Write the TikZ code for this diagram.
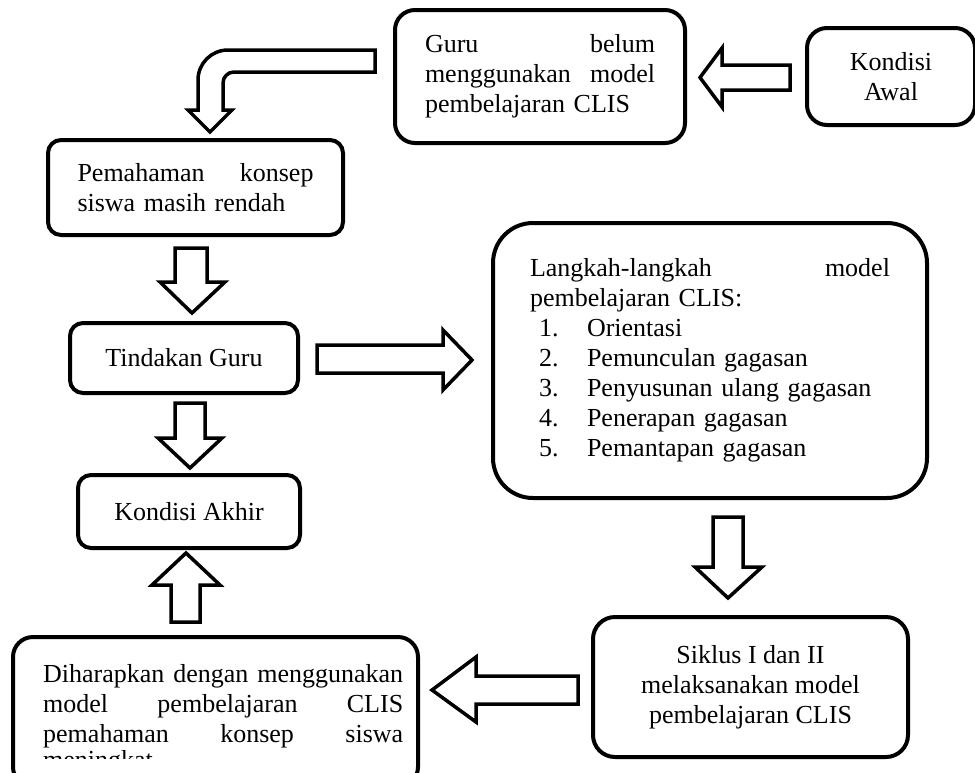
\documentclass[tikz,border=0pt]{standalone}
\usepackage{fontspec}
\setmainfont{Liberation Serif}
\tikzset{
  box/.style={draw, line width=4pt, inner sep=0pt, align=left, font=\fontsize{26}{30}\selectfont},
  txt/.style={inner sep=0pt, align=left, font=\fontsize{26}{30}\selectfont},
  barrow/.style={draw, line width=3.5pt, fill=white, line join=miter, miter limit=10},
}
\newcommand\jline[2]{\leavevmode\hbox to #1{#2}}
\begin{document}
\begin{tikzpicture}[x=1pt,y=-1pt]
\useasboundingbox (0,0) rectangle (975,772);

% boxes
\node[box, rounded corners=20pt, minimum width=290pt, minimum height=133pt, text width=230pt] (guru) at (540,76.5)
  {\jline{230pt}{Guru\hfill belum}\\\jline{230pt}{menggunakan\hfill model}\\pembelajaran CLIS};
\node[box, rounded corners=20pt, minimum width=168pt, minimum height=97pt, align=center] (awal) at (891,76.5)
  {Kondisi\\Awal};
\node[box, rounded corners=13pt, minimum width=295pt, minimum height=95pt, text width=236pt] (pem) at (195.5,187.5)
  {\jline{236pt}{Pemahaman\hfill konsep}\\siswa masih rendah};
\node[box, rounded corners=13pt, minimum width=228pt, minimum height=70pt, align=center] (tind) at (184,358)
  {Tindakan Guru};
\node[box, rounded corners=13pt, minimum width=222pt, minimum height=73pt, align=center] (akhir) at (189,511.5)
  {Kondisi Akhir};
\node[box, rounded corners=40pt, minimum width=434pt, minimum height=275pt, text width=360pt] (lang) at (710,360.5)
  {\jline{360pt}{Langkah-langkah\hfill model}\\pembelajaran CLIS:\\
   \hspace*{9pt}\makebox[48pt][l]{1.}Orientasi\\
   \hspace*{9pt}\makebox[48pt][l]{2.}Pemunculan gagasan\\
   \hspace*{9pt}\makebox[48pt][l]{3.}Penyusunan ulang gagasan\\
   \hspace*{9pt}\makebox[48pt][l]{4.}Penerapan gagasan\\
   \hspace*{9pt}\makebox[48pt][l]{5.}Pemantapan gagasan};
\node[box, rounded corners=22pt, minimum width=315pt, minimum height=140pt, align=center] (sik) at (750.5,687)
  {Siklus I dan II\\melaksanakan model\\pembelajaran CLIS};
\node[box, rounded corners=20pt, minimum width=405pt, minimum height=150pt] (har) at (215.5,712) {};
\node[txt, text width=360pt, anchor=north west] (hart) at (43,664.2)
  {\jline{360pt}{Diharapkan\hfill dengan\hfill menggunakan}\\
   \jline{360pt}{model\hfill pembelajaran\hfill CLIS}\\
   \jline{360pt}{pemahaman\hfill konsep\hfill siswa}};
\begin{scope}
  \clip (20,640) rectangle (410,758);
  \node[txt, anchor=base west] (hart4) at (43,768) {meningkat.};
\end{scope}

% block arrows
% Kondisi Awal -> Guru
\draw[barrow] (790,65) -- (722,65) -- (722,48) -- (700,77.5) -- (722,107) -- (722,90) -- (790,90) -- cycle;
% Guru -> Pemahaman (bent)
\draw[barrow] (375,50) -- (228,50) .. controls (211.4,50) and (198,63.4) .. (198,80)
  -- (198,110) -- (188,110) -- (210,132) -- (232,110) -- (223,110) -- (223,83)
  .. controls (223,76.9) and (227.9,72) .. (234,72) -- (375,72) -- cycle;
% Pemahaman -> Tindakan
\draw[barrow] (175,248) -- (207,248) -- (207,282) -- (225,282) -- (192,313) -- (160,282) -- (175,282) -- cycle;
% Tindakan -> Akhir
\draw[barrow] (175,403) -- (205,403) -- (205,438) -- (222,438) -- (190,468) -- (158,438) -- (175,438) -- cycle;
% Diharapkan -> Akhir
\draw[barrow] (171,622) -- (200,622) -- (200,585) -- (220,585) -- (186,553) -- (152,585) -- (171,585) -- cycle;
% Tindakan -> Langkah
\draw[barrow] (317,345) -- (443,345) -- (443,330) -- (472,360) -- (443,390) -- (443,373) -- (317,373) -- cycle;
% Langkah -> Siklus
\draw[barrow] (713,517) -- (743,517) -- (743,567) -- (762,567) -- (728,598) -- (695,567) -- (713,567) -- cycle;
% Siklus -> Diharapkan
\draw[barrow] (578,676) -- (476,676) -- (476,657) -- (432,690) -- (476,722) -- (476,704) -- (578,704) -- cycle;
\end{tikzpicture}
\end{document}
